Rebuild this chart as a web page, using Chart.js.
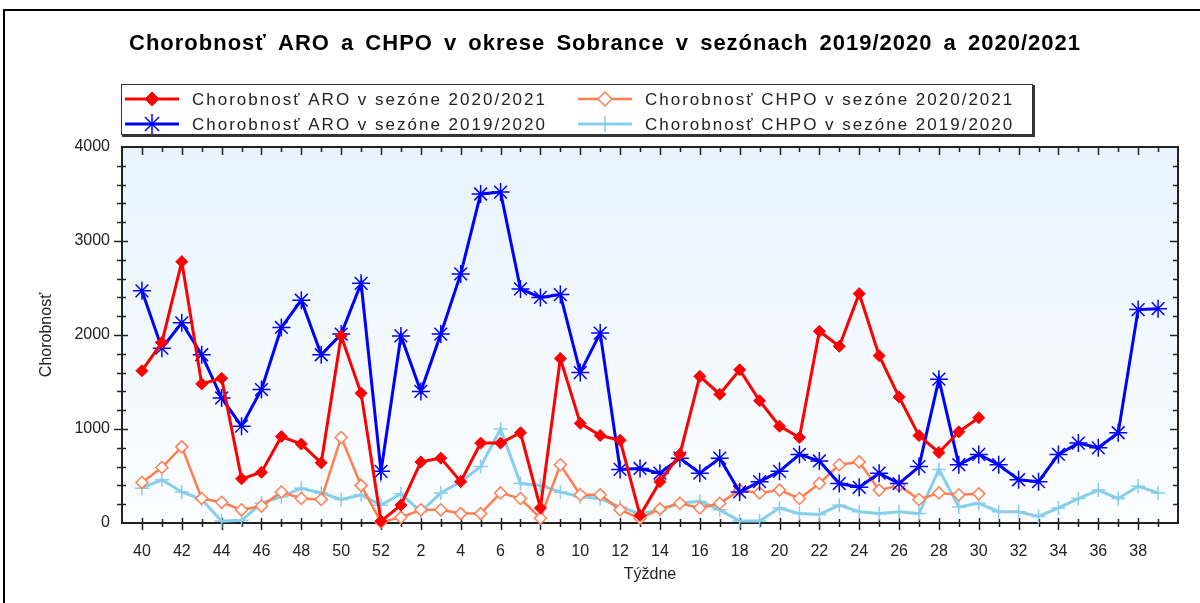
<!DOCTYPE html>
<html>
<head>
<meta charset="utf-8">
<script src="https://cdn.jsdelivr.net/npm/chart.js@4.4.1/dist/chart.umd.min.js"></script>
<style>
html, body { margin: 0; padding: 0; background: #fff; }
#wrap { width: 1200px; height: 603px; }
</style>
</head>
<body>
<div id="wrap"><canvas id="plots" width="1200" height="603"></canvas></div>
<script>
// weeks of the season, 40..52 then 1..39
var weeks = [40, 41, 42, 43, 44, 45, 46, 47, 48, 49, 50, 51, 52,
  1, 2, 3, 4, 5, 6, 7, 8, 9, 10, 11, 12, 13, 14, 15, 16, 17, 18, 19, 20,
  21, 22, 23, 24, 25, 26, 27, 28, 29, 30, 31, 32, 33, 34, 35, 36, 37, 38, 39];
// labelled weeks on the x axis
var xTickLabels = ["40", "42", "44", "46", "48", "50", "52", "2", "4", "6", "8", "10", "12", "14",
  "16", "18", "20", "22", "24", "26", "28", "30", "32", "34", "36", "38"];
var yTicks = [0, 1000, 2000, 3000, 4000];

// ARO 2020/2021 (till week 30)
var aro2021 = [1620, 1920, 2780, 1480, 1540, 470, 540, 920, 840, 640, 1990, 1380, 20,
  190, 650, 690, 440, 850, 850, 960, 160, 1750, 1060, 930, 880, 80, 440, 730, 1560, 1370,
  1630, 1300, 1030, 910, 2040, 1880, 2440, 1780, 1340, 930, 750, 970, 1120];
// ARO 2019/2020
var aro1920 = [2470, 1860, 2130, 1790, 1330, 1030, 1420, 2080, 2370, 1790, 2010, 2550, 550,
  1990, 1400, 2010, 2650, 3500, 3520, 2490, 2400, 2430, 1600, 2020, 570, 580, 530, 690, 530, 690,
  330, 440, 550, 730, 660, 420, 380, 530, 420, 600, 1530, 620, 730, 620, 460, 440, 730, 850, 800,
  960, 2270, 2280];
// CHPO 2020/2021 (till week 30)
var chpo2021 = [430, 590, 810, 260, 220, 140, 180, 330, 260, 250, 910, 400, 10,
  60, 140, 140, 100, 100, 320, 260, 50, 620, 300, 300, 140, 50, 150, 210, 160, 210,
  350, 320, 350, 260, 420, 620, 650, 350, 400, 250, 320, 300, 310];
// CHPO 2019/2020
var chpo1920 = [370, 460, 330, 250, 20, 30, 210, 280, 370, 320, 250, 300, 190,
  310, 120, 320, 440, 600, 1000, 420, 400, 330, 280, 260, 170, 100, 140, 210, 230, 140,
  20, 20, 160, 100, 90, 190, 120, 100, 120, 100, 570, 170, 210, 120, 120, 70, 160, 260, 350,
  260, 390, 320];

function pts(arr) {
  return arr.map(function (v, i) { return { x: i, y: v }; });
}

var font = "Arial, 'Liberation Sans', sans-serif";
var ink = "#222";

// frame, plot background, ticks on all four sides, title and legend
var decor = {
  id: "decor",
  beforeDraw: function (chart) {
    var ctx = chart.ctx, a = chart.chartArea;
    ctx.save();
    ctx.fillStyle = "#fff";
    ctx.fillRect(0, 0, chart.width, chart.height);
    ctx.strokeStyle = "#000";
    ctx.lineWidth = 2;
    ctx.beginPath();
    ctx.moveTo(4, chart.height);
    ctx.lineTo(4, 10);
    ctx.lineTo(chart.width, 10);
    ctx.stroke();
    var g = ctx.createLinearGradient(0, a.top, 0, a.bottom);
    g.addColorStop(0, "#e8f3fe");
    g.addColorStop(1, "#fbfdff");
    ctx.fillStyle = g;
    ctx.fillRect(a.left, a.top, a.right - a.left, a.bottom - a.top);
    ctx.restore();
  },
  beforeDatasetsDraw: function (chart) {
    var ctx = chart.ctx, a = chart.chartArea;
    var xs = chart.scales.x, ys = chart.scales.y;
    ctx.save();
    ctx.strokeStyle = ink;
    ctx.lineWidth = 2;
    ctx.strokeRect(a.left, a.top, a.right - a.left, a.bottom - a.top);
    ctx.lineWidth = 1.5;
    ctx.beginPath();
    for (var i = 0; i < weeks.length; i++) {
      var px = Math.round(xs.getPixelForValue(i)) + 0.5;
      var major = i % 2 === 0;
      ctx.moveTo(px, a.bottom - (major ? 5 : 4));
      ctx.lineTo(px, a.bottom + (major ? 7 : 4));
      ctx.moveTo(px, a.top);
      ctx.lineTo(px, a.top + (major ? 8 : 5));
    }
    for (var v = 200; v < 4000; v += 200) {
      var py = Math.round(ys.getPixelForValue(v)) + 0.5;
      var maj = v % 1000 === 0;
      ctx.moveTo(a.left - (maj ? 8 : 5), py);
      ctx.lineTo(a.left + (maj ? 6 : 4), py);
      ctx.moveTo(a.right - (maj ? 8 : 5), py);
      ctx.lineTo(a.right, py);
    }
    ctx.stroke();
    ctx.restore();
  },
  afterDraw: function (chart) {
    var ctx = chart.ctx;
    ctx.save();
    // title
    ctx.fillStyle = "#000";
    ctx.font = "bold 22px " + font;
    ctx.letterSpacing = "1px";
    ctx.wordSpacing = "4px";
    ctx.textAlign = "center";
    ctx.textBaseline = "middle";
    ctx.fillText("Chorobnosť ARO a CHPO v okrese Sobrance v sezónach 2019/2020 a 2020/2021", 605, 44);
    ctx.wordSpacing = "0px";

    // legend box
    ctx.fillStyle = "#fff";
    ctx.fillRect(121, 84, 912, 51);
    ctx.strokeStyle = "#333";
    ctx.lineWidth = 1;
    ctx.strokeRect(121.5, 84.5, 911, 50);
    ctx.lineWidth = 2;
    ctx.beginPath();
    ctx.moveTo(122, 136);
    ctx.lineTo(1034, 136);
    ctx.lineTo(1034, 85);
    ctx.stroke();

    var slots = [
      { ds: 0, x: 125, y: 99 },
      { ds: 2, x: 578, y: 99 },
      { ds: 1, x: 125, y: 124 },
      { ds: 3, x: 578, y: 124 }
    ];
    ctx.font = "17px " + font;
    ctx.letterSpacing = "2px";
    ctx.textAlign = "left";
    slots.forEach(function (s) {
      var d = chart.data.datasets[s.ds];
      ctx.strokeStyle = d.borderColor;
      ctx.lineWidth = d.borderWidth;
      ctx.beginPath();
      ctx.moveTo(s.x, s.y);
      ctx.lineTo(s.x + 54, s.y);
      ctx.stroke();
      ctx.fillStyle = d.pointBackgroundColor;
      ctx.strokeStyle = d.pointBorderColor;
      ctx.lineWidth = d.pointBorderWidth;
      Chart.helpers.drawPoint(ctx, {
        pointStyle: d.pointStyle, radius: d.pointRadius + 1, rotation: 0, borderWidth: d.pointBorderWidth
      }, s.x + 27, s.y);
      ctx.fillStyle = "#222";
      ctx.fillText(d.label, s.x + 67, s.y + 1);
    });
    ctx.restore();
  }
};

new Chart(document.getElementById("plots"), {
  type: "line",
  data: {
    datasets: [
      {
        label: "Chorobnosť ARO v sezóne 2020/2021",
        data: pts(aro2021),
        borderColor: "#ff0000",
        borderWidth: 3,
        pointStyle: "rectRot",
        pointRadius: 6,
        pointBackgroundColor: "#ff0000",
        pointBorderColor: "#ff0000",
        pointBorderWidth: 1
      },
      {
        label: "Chorobnosť ARO v sezóne 2019/2020",
        data: pts(aro1920),
        borderColor: "#0000ff",
        borderWidth: 3,
        pointStyle: "star",
        pointRadius: 9,
        pointBackgroundColor: "#0000ff",
        pointBorderColor: "#0000ff",
        pointBorderWidth: 1.5
      },
      {
        label: "Chorobnosť CHPO v sezóne 2020/2021",
        data: pts(chpo2021),
        borderColor: "#ff7f50",
        borderWidth: 2.5,
        pointStyle: "rectRot",
        pointRadius: 6,
        pointBackgroundColor: "#ffffff",
        pointBorderColor: "#ff7f50",
        pointBorderWidth: 1.5
      },
      {
        label: "Chorobnosť CHPO v sezóne 2019/2020",
        data: pts(chpo1920),
        borderColor: "#87ceeb",
        borderWidth: 3,
        pointStyle: "cross",
        pointRadius: 7,
        pointBackgroundColor: "#87ceeb",
        pointBorderColor: "#87ceeb",
        pointBorderWidth: 1.5
      }
    ]
  },
  options: {
    responsive: false,
    animation: false,
    devicePixelRatio: 1,
    layout: { padding: { top: 147, left: 0, right: 22, bottom: 0 } },
    datasets: { line: { tension: 0, clip: false } },
    plugins: {
      legend: { display: false },
      title: { display: false },
      tooltip: { enabled: false }
    },
    scales: {
      x: {
        type: "linear",
        min: -1,
        max: 52,
        afterBuildTicks: function (s) {
          s.ticks = xTickLabels.map(function (w, k) { return { value: k * 2 }; });
        },
        afterFit: function (s) { s.height = 80; },
        ticks: {
          autoSkip: false,
          maxRotation: 0,
          padding: 19,
          color: ink,
          font: { family: font, size: 16 },
          callback: function (v) { return xTickLabels[v / 2]; }
        },
        grid: { display: false, drawTicks: false },
        border: { display: false },
        title: {
          display: true, text: "Týždne", color: ink,
          font: { family: font, size: 16 },
          padding: { top: 0, bottom: 19 }
        }
      },
      y: {
        min: 0,
        max: 4000,
        afterBuildTicks: function (s) {
          s.ticks = yTicks.map(function (v) { return { value: v }; });
        },
        afterFit: function (s) { s.width = 122; },
        ticks: {
          padding: 12, color: ink, font: { family: font, size: 16 },
          callback: function (v) { return String(v); }
        },
        grid: { display: false, drawTicks: false },
        border: { display: false },
        title: {
          display: true, text: "Chorobnosť", color: ink,
          font: { family: font, size: 16 },
          padding: { top: 37, bottom: 0 }
        }
      }
    }
  },
  plugins: [decor]
});
</script>
</body>
</html>
